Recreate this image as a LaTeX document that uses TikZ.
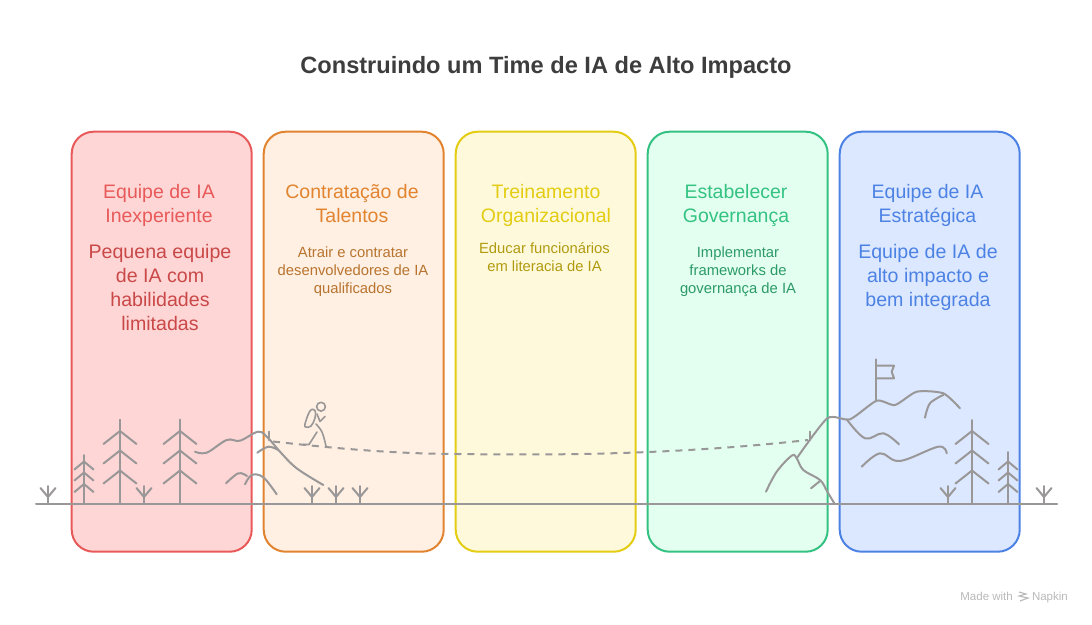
\documentclass[tikz,border=0pt]{standalone}
\usepackage{fontspec}
\setmainfont{Liberation Sans}
\usepackage{xcolor}
\definecolor{redline}{HTML}{E85A5A}
\definecolor{redfill}{HTML}{FFD6D6}
\definecolor{redtext}{HTML}{C94848}
\definecolor{orangeline}{HTML}{E2842F}
\definecolor{orangefill}{HTML}{FFF0E3}
\definecolor{orangetext}{HTML}{B8742F}
\definecolor{yellowline}{HTML}{E3CC12}
\definecolor{yellowfill}{HTML}{FFF9DB}
\definecolor{yellowtext}{HTML}{B09B10}
\definecolor{greenline}{HTML}{34C283}
\definecolor{greenfill}{HTML}{E3FFF0}
\definecolor{greentext}{HTML}{2C9A68}
\definecolor{blueline}{HTML}{4C82E4}
\definecolor{bluefill}{HTML}{DCE8FF}
\definecolor{sceneline}{HTML}{999797}
\tikzset{
  stagebox/.style={rounded corners=22pt, line width=2pt, minimum width=180pt, minimum height=420pt, anchor=north west, inner sep=0pt, outer sep=0pt},
  heading/.style={align=center, anchor=north, execute at begin node=\strut, font=\fontsize{19.5}{24}\selectfont},
  bodybig/.style={align=center, anchor=north, execute at begin node=\strut, font=\fontsize{19.6}{24}\selectfont},
  bodysmall/.style={align=center, anchor=north, execute at begin node=\strut, font=\fontsize{14.8}{18}\selectfont},
  scene/.style={draw=sceneline, line width=2pt, line cap=round, line join=round},
  figure/.style={draw=sceneline, line width=1.6pt, line cap=round, line join=round},
  mark text/.style={anchor=base east, inner sep=0pt, text=black!28, font=\fontsize{11.5}{12}\selectfont},
}
\begin{document}
\begin{tikzpicture}[x=1pt, y=-1pt]
\useasboundingbox (0,0) rectangle (1092,624);

\node[font=\bfseries\fontsize{23.6}{28}\selectfont, text=black!76] (title) at (546,67.5) {Construindo um Time de IA de Alto Impacto};

% stages
\node[stagebox, draw=redline, fill=redfill] (inexperiente) at (71.7,131.7) {};
\node[stagebox, draw=orangeline, fill=orangefill] (contratacao) at (263.7,131.7) {};
\node[stagebox, draw=yellowline, fill=yellowfill] (treinamento) at (455.7,131.7) {};
\node[stagebox, draw=greenline, fill=greenfill] (governanca) at (647.7,131.7) {};
\node[stagebox, draw=blueline, fill=bluefill] (estrategica) at (839.7,131.7) {};

\node[heading, text=redline] (h1) at (159,181) {Equipe de IA\\Inexperiente};
\node[heading, text=orangeline] (h2) at (352,181) {Contratação de\\Talentos};
\node[heading, text=yellowline] (h3) at (546,181) {Treinamento\\Organizacional};
\node[heading, text=greenline] (h4) at (736,181) {Estabelecer\\Governança};
\node[heading, text=blueline] (h5) at (927.5,181) {Equipe de IA\\Estratégica};

\node[bodybig, text=redtext] (b1) at (160,241) {Pequena equipe\\de IA com\\habilidades\\limitadas};
\node[bodysmall, text=orangetext] (b2) at (353,243.5) {Atrair e contratar\\desenvolvedores de IA\\qualificados};
\node[bodysmall, text=yellowtext] (b3) at (544.5,239.5) {Educar funcionários\\em literacia de IA};
\node[bodysmall, text=greentext] (b4) at (738,243.5) {Implementar\\frameworks de\\governança de IA};
\node[bodybig, text=blueline] (b5) at (928,241) {Equipe de IA de\\alto impacto e\\bem integrada};

% ground
\draw[scene] (36,504) -- (1057,504);

% sprouts
\foreach \sx in {48,144,312,336,360,948,1044} {
  \draw[scene] (\sx,504) -- (\sx,486);
  \draw[scene] (\sx-7.5,488) -- (\sx,497) -- (\sx+7.5,488);
}
% tall trees
\foreach \tx/\ty in {120/0,180/0,972/0.7} {
  \draw[scene] (\tx,504) -- (\tx,419.5+\ty);
  \foreach \by in {431,450.5,470.5}
    \draw[scene] (\tx-16.5,\by+13) -- (\tx,\by) -- (\tx+16.5,\by+13);
}
% small trees
\foreach \tx/\ty in {84/455,1008/452} {
  \draw[scene] (\tx,504) -- (\tx,\ty);
  \foreach \by in {461.5,472.5,484}
    \draw[scene] (\tx-9.5,\by+8) -- (\tx,\by) -- (\tx+9.5,\by+8);
}

% hills on the left
\draw[scene] plot[smooth, tension=0.6] coordinates {(195,451.7) (206.7,452.7) (226.7,440) (240,440.7) (258.3,431.7) (268.3,438.3) (280,451.7) (296.7,468.3) (323.3,485)};
\draw[scene] plot[smooth, tension=0.6] coordinates {(257.3,452.7) (268.3,446.7) (278.3,450)};
\draw[scene] plot[smooth, tension=0.6] coordinates {(226,483.3) (238.3,473.3) (247,476)};
\draw[scene] plot[smooth, tension=0.6] coordinates {(245,484.3) (251.7,475) (263.3,477.3) (276.7,494.3)};
\draw[scene] (269.3,431.7) -- (269.3,440);

% walker
\draw[figure] (321,406.7) circle (4.4);
\draw[figure] plot[smooth cycle, tension=0.7] coordinates {(305,424) (310,411) (315,410.5) (315,418) (311,426) (306,427)};
\draw[figure] (317,414) -- (320,421.5) -- (325,416.5);
\draw[figure] plot[smooth, tension=0.6] coordinates {(316,424) (322,432) (326,446)};
\draw[figure] (317,432) -- (309,444.5) -- (303,444.5);

% trail
\coordinate (trailstart) at (273,441.5);
\coordinate (trailmid) at (460,454);
\coordinate (trailend) at (808,440);
\draw[scene, dash pattern=on 7pt off 6pt, line cap=butt] (trailstart) .. controls (340,449) and (400,454) .. (trailmid) .. controls (590,456) and (700,452) .. (trailend);
\draw[scene] (810,431.7) -- (810,440);

% mountain
\draw[scene] plot[smooth, tension=0.6] coordinates {(766,491.7) (776.7,471.7) (791.7,455.7) (796.7,458.3) (803.3,470) (820,480) (827.3,491.7) (834.3,503.3)};
\draw[scene] plot[smooth, tension=0.6] coordinates {(811,488.3) (820,481)};
\draw[scene] plot[smooth, tension=0.4] coordinates {(796.7,458.3) (827.3,418.3) (850,419.3) (876.7,400.7) (895,405) (916.7,391.7) (943.3,393.3) (960,408.3)};
\draw[scene] plot[smooth, tension=0.6] coordinates {(943.3,395) (930,403.3) (925,417.7)};
\draw[scene] plot[smooth, tension=0.6] coordinates {(846.7,419.3) (865,438.3) (883.3,433.3) (899,444.3)};
\draw[scene] plot[smooth, tension=0.6] coordinates {(861.7,466.7) (880,453.3) (900,461) (938.3,446.7) (946.7,453.3)};

% flag
\draw[scene] (876,400.7) -- (876,359.3);
\draw[scene] (876,365.7) -- (894,365.7) -- (891.7,371.7) -- (894,378.3) -- (876,378.3);

% watermark
\node[mark text] (napkin) at (1068,600.5) {Napkin};
\node[mark text] (madewith) at (1013,600.5) {Made with};
\draw[black!28, line width=1.1pt] (1019,592) -- (1026,594) -- (1019,596) -- (1028,598) -- (1020,601);
\end{tikzpicture}
\end{document}
